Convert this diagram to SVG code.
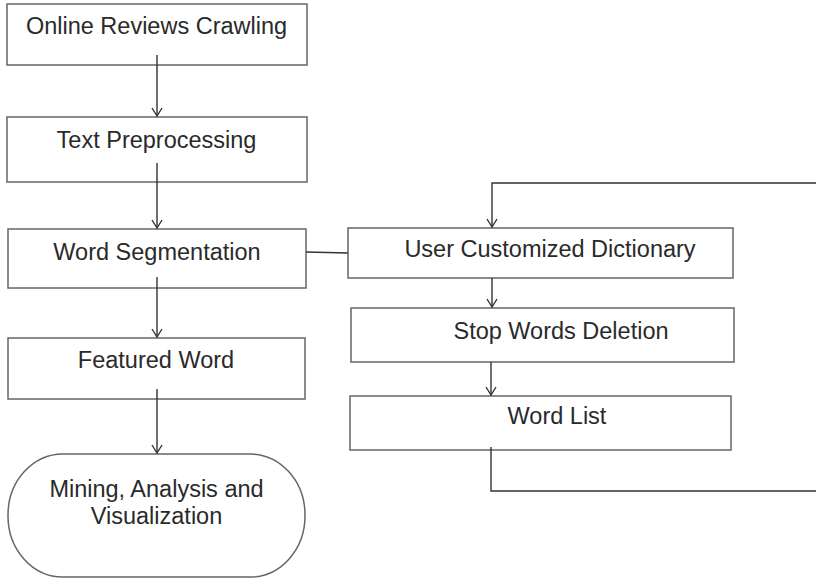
<svg xmlns="http://www.w3.org/2000/svg" width="816" height="579" viewBox="0 0 816 579">
<defs>
<style>
.box{fill:#fff;stroke:#666;stroke-width:1.5}
.t{font-family:"Liberation Sans",Arial,sans-serif;font-size:23.5px;fill:#2a2a2a;text-anchor:middle}
.c{fill:none;stroke:#333;stroke-width:1.4}
</style>
<marker id="ah" viewBox="0 0 12 12" refX="10" refY="6" markerWidth="12" markerHeight="12" markerUnits="userSpaceOnUse" orient="auto">
<path d="M2,1 L10,6 L2,11" fill="none" stroke="#333" stroke-width="1.4"/>
</marker>
</defs>
<rect width="816" height="579" fill="#fff"/>
<g id="n1"><rect class="box" x="7" y="4" width="300" height="61"/><text class="t" x="156.5" y="34">Online Reviews Crawling</text></g>
<g id="n2"><rect class="box" x="7" y="117" width="300" height="65"/><text class="t" x="156.5" y="148">Text Preprocessing</text></g>
<g id="n3"><rect class="box" x="8" y="229" width="298" height="59"/><text class="t" x="157" y="260">Word Segmentation</text></g>
<g id="n4"><rect class="box" x="8" y="338" width="297" height="61"/><text class="t" x="156" y="368">Featured Word</text></g>
<g id="n5"><rect class="box" x="8" y="454" width="297" height="123" rx="55" ry="61"/><text class="t" x="156.5" y="497">Mining, Analysis and</text><text class="t" x="156.5" y="524">Visualization</text></g>
<g id="n6"><rect class="box" x="348" y="228" width="385" height="50"/><text class="t" x="550" y="257">User Customized Dictionary</text></g>
<g id="n7"><rect class="box" x="351" y="308" width="383" height="54"/><text class="t" x="561" y="339">Stop Words Deletion</text></g>
<g id="n8"><rect class="box" x="350" y="396" width="381" height="54"/><text class="t" x="557" y="424">Word List</text></g>
<g id="connectors">
<line class="c" x1="157" y1="55" x2="157" y2="116" marker-end="url(#ah)"/>
<line class="c" x1="157" y1="163" x2="157" y2="228" marker-end="url(#ah)"/>
<line class="c" x1="157" y1="277" x2="157" y2="337" marker-end="url(#ah)"/>
<line class="c" x1="157" y1="389" x2="157" y2="453" marker-end="url(#ah)"/>
<line class="c" x1="306" y1="252" x2="348" y2="253"/>
<polyline class="c" points="816,183 492,183 492,227" marker-end="url(#ah)"/>
<line class="c" x1="492" y1="278" x2="492" y2="307" marker-end="url(#ah)"/>
<line class="c" x1="491" y1="362" x2="491" y2="395" marker-end="url(#ah)"/>
<polyline class="c" points="491,447 491,491 816,491"/>
</g>
</svg>
